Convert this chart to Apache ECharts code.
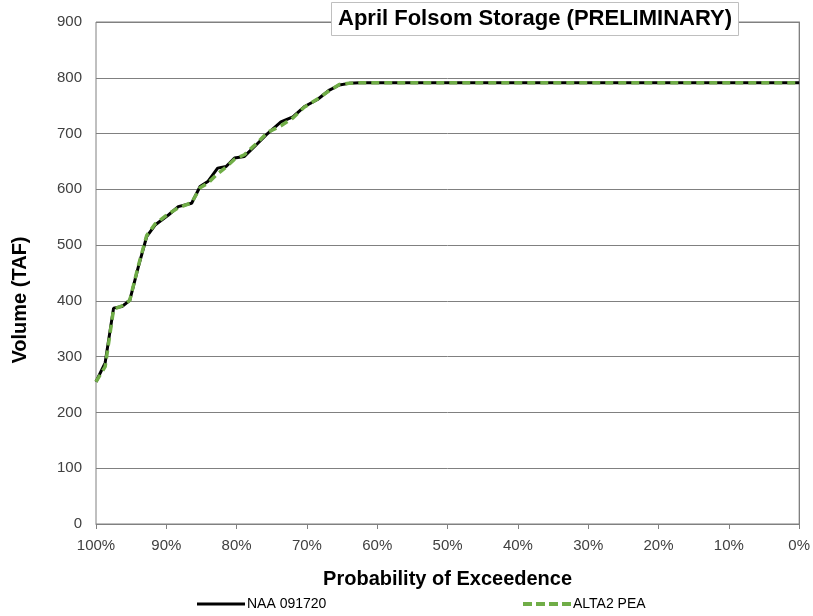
<!DOCTYPE html>
<html>
<head>
<meta charset="utf-8">
<script src="https://cdn.jsdelivr.net/npm/echarts@6/dist/echarts.min.js"></script>
<style>
html,body{margin:0;padding:0;background:#fff;}
#chart{width:813px;height:616px;}
</style>
</head>
<body>
<div id="chart"></div>
<script>
// Exceedence probability (%) for each point
const exceedence = [100, 98.7, 97.5, 96.3, 95.2, 94.0, 92.8, 91.6, 89.7, 88.3, 86.4, 85.2, 84.1, 82.7, 81.5, 80.3, 78.9, 77.2, 75.6, 73.7, 72.0, 70.4, 68.5, 66.8, 65.4, 64.0, 62.5, 50, 40, 30, 20, 10, 0];
const naa091720 = [255, 289, 387, 390, 401, 460, 515, 536, 554, 569, 575, 605, 614, 638, 641, 656, 659, 680, 700, 721, 730, 748, 761, 778, 787, 790, 791, 791, 791, 791, 791, 791, 791];
const alta2Pea  = [255, 282, 385, 391, 401, 462, 517, 538, 556, 567, 576, 603, 611, 628, 640, 654, 662, 682, 702, 714, 728, 747, 762, 777, 788, 790, 791, 791, 791, 791, 791, 791, 791];
const yTicks = [0, 100, 200, 300, 400, 500, 600, 700, 800, 900];
const seriesNames = ['NAA 091720', 'ALTA2 PEA'];
const titleText = 'April Folsom Storage (PRELIMINARY)';

const pairs = (xs, ys) => xs.map((x, i) => [x, ys[i]]);

const chart = echarts.init(document.getElementById('chart'));
const font = 'Liberation Sans, Arial, sans-serif';
const dashIcon = 'path://M0,0h9v4h-9z M13,0h9v4h-9z M26,0h9v4h-9z M39,0h9v4h-9z';
chart.setOption({
  animation: false,
  backgroundColor: '#ffffff',
  title: {
    text: titleText,
    left: 331, top: 2,
    backgroundColor: '#ffffff',
    borderColor: '#bfbfbf', borderWidth: 1,
    padding: [6, 7, 6, 7],
    textStyle: { fontFamily: font, fontSize: 22, fontWeight: 'bold', color: '#000' }
  },
  legend: [
    { data: [{ name: seriesNames[0], icon: 'rect' }], left: 197, top: 597, padding: 0,
      itemWidth: 48, itemHeight: 3,
      textStyle: { fontFamily: font, fontSize: 14, color: '#000', padding: [0,0,0,-3] } },
    { data: [{ name: seriesNames[1], icon: dashIcon }], left: 523, top: 597, padding: 0,
      itemWidth: 48, itemHeight: 4,
      textStyle: { fontFamily: font, fontSize: 14, color: '#000', padding: [0,0,0,-3] } }
  ],
  grid: { left: 96, right: 12, top: 22, bottom: 92, containLabel: false,
          show: true, borderColor: '#808080', borderWidth: 1 },
  xAxis: {
    type: 'value', min: 0, max: 100, interval: 10, inverse: true,
    name: 'Probability of Exceedence', nameLocation: 'middle', nameGap: 45,
    nameTextStyle: { fontFamily: font, fontSize: 20, fontWeight: 'bold', color: '#000' },
    axisLine: { show: true, lineStyle: { color: '#808080', width: 1 } },
    axisTick: { show: true, length: 5, lineStyle: { color: '#808080' } },
    axisLabel: { formatter: '{value}%', fontFamily: font, fontSize: 15, color: '#404040', margin: 14 },
    splitLine: { show: false }
  },
  yAxis: {
    type: 'value', min: yTicks[0], max: yTicks[yTicks.length - 1], interval: 100,
    name: 'Volume (TAF)', nameLocation: 'middle', nameGap: 66,
    nameTextStyle: { fontFamily: font, fontSize: 20, fontWeight: 'bold', color: '#000', padding: [0, 54, 0, 0] },
    axisLine: { show: true, lineStyle: { color: '#808080', width: 1 } },
    axisTick: { show: true, length: 5, lineStyle: { color: '#808080' } },
    axisLabel: { fontFamily: font, fontSize: 15, color: '#404040', margin: 14 },
    splitLine: { show: true, lineStyle: { color: '#808080', width: 1 } }
  },
  series: [
    { name: seriesNames[0], type: 'line', data: pairs(exceedence, naa091720),
      showSymbol: false, symbol: 'none', color: '#000000',
      lineStyle: { color: '#000000', width: 3 } },
    { name: seriesNames[1], type: 'line', data: pairs(exceedence, alta2Pea),
      showSymbol: false, symbol: 'none', color: '#70AD47',
      lineStyle: { color: '#70AD47', width: 3.5, type: [8, 5] } }
  ]
});
</script>
</body>
</html>
